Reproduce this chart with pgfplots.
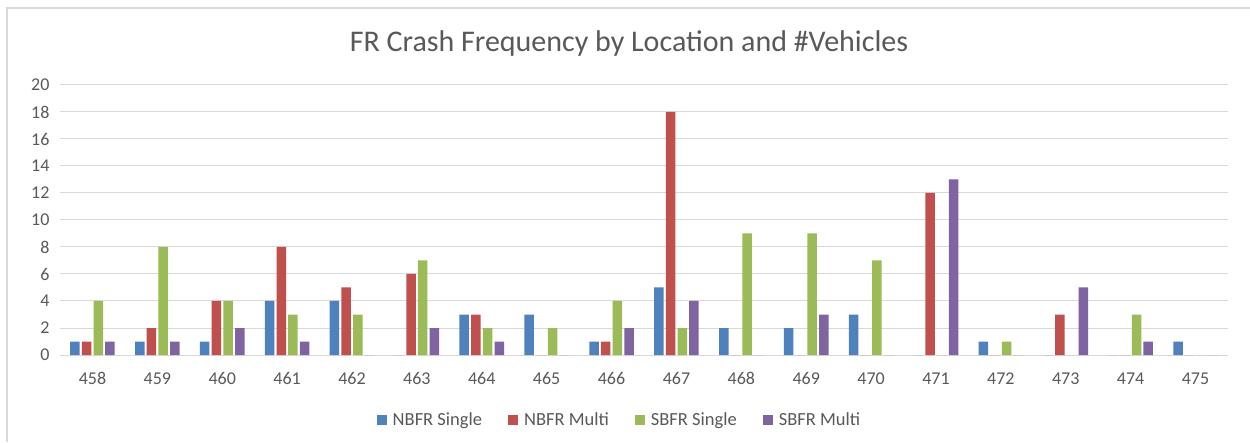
\documentclass[border=0pt]{standalone}
\usepackage{pgfplots}
\pgfplotsset{compat=1.18}
\usepackage{fontspec}
\setmainfont{Carlito}
\definecolor{cblue}{HTML}{4F81BD}
\definecolor{cred}{HTML}{C0504D}
\definecolor{cgreen}{HTML}{9BBB59}
\definecolor{cpurple}{HTML}{8064A2}
\definecolor{cgrid}{HTML}{D9D9D9}
\definecolor{ctext}{HTML}{595959}
\begin{document}
\begin{tikzpicture}[x=1pt,y=1pt]
\path[use as bounding box] (0,0) rectangle (1250,442);
\fill[white] (0,0) rectangle (1250,442);
\draw[cgrid,line width=1.2pt] (7,0) -- (7,434) -- (1250,434);
\node[ctext,font=\fontsize{30}{34}\selectfont] at (629,398) {FR Crash Frequency by Location and \#Vehicles};
\begin{axis}[
  at={(60pt,87pt)}, anchor=south west,
  scale only axis, width=1168pt, height=270pt,
  ybar=2.2pt, bar width=9.5pt,
  xmin=-0.5, xmax=17.5, ymin=0, ymax=20,
  xtick={0,...,17},
  xticklabels={458,459,460,461,462,463,464,465,466,467,468,469,470,471,472,473,474,475},
  ytick={0,2,...,20},
  axis x line*=bottom, axis y line*=left,
  y axis line style={draw=none},
  x axis line style={cgrid,line width=1pt,-},
  ymajorgrids, grid style={cgrid,line width=1pt},
  major tick length=0pt,
  tick label style={ctext,font=\fontsize{18}{20}\selectfont},
  /pgf/number format/assume math mode=true,
  yticklabel style={xshift=-7pt},
  xticklabel style={yshift=-14pt},
  legend style={at={(0.479,-0.241)},anchor=center,draw=none,legend columns=4,
     font=\fontsize{18.5}{20}\selectfont\color{ctext},
     /tikz/every odd column/.append style={column sep=4pt},
     /tikz/every even column/.append style={column sep=24pt}},
  legend image code/.code={\fill[#1,draw=none] (0pt,-5pt) rectangle (10pt,5pt);},
  every axis plot/.append style={draw=none},
  clip=false,
]
\addplot[fill=cblue] coordinates {(0,1)(1,1)(2,1)(3,4)(4,4)(5,0)(6,3)(7,3)(8,1)(9,5)(10,2)(11,2)(12,3)(13,0)(14,1)(15,0)(16,0)(17,1)};
\addplot[fill=cred] coordinates {(0,1)(1,2)(2,4)(3,8)(4,5)(5,6)(6,3)(7,0)(8,1)(9,18)(10,0)(11,0)(12,0)(13,12)(14,0)(15,3)(16,0)(17,0)};
\addplot[fill=cgreen] coordinates {(0,4)(1,8)(2,4)(3,3)(4,3)(5,7)(6,2)(7,2)(8,4)(9,2)(10,9)(11,9)(12,7)(13,0)(14,1)(15,0)(16,3)(17,0)};
\addplot[fill=cpurple] coordinates {(0,1)(1,1)(2,2)(3,1)(4,0)(5,2)(6,1)(7,0)(8,2)(9,4)(10,0)(11,3)(12,0)(13,13)(14,0)(15,5)(16,1)(17,0)};
\legend{NBFR Single,NBFR Multi,SBFR Single,SBFR Multi}
\end{axis}
\end{tikzpicture}
\end{document}
